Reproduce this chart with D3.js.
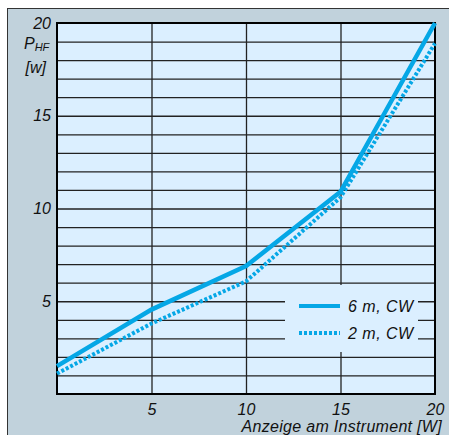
<!DOCTYPE html>
<html>
<head>
<meta charset="utf-8">
<script src="https://cdn.jsdelivr.net/npm/d3@7"></script>
<style>
  body { margin: 0; background: #fff; }
  svg { display: block; }
  text { font-family: "Liberation Sans", Arial, sans-serif; font-style: italic; fill: #111; }
</style>
</head>
<body>
<div id="chart"></div>
<script>
// data
var xValues = [0, 5, 10, 15, 20];
var power6m = [1.5, 4.55, 6.9, 10.9, 20];
var power2m = [1.1, 3.8, 6.07, 10.6, 18.9];
var xTicks = [5, 10, 15, 20];
var yTicks = [5, 10, 15, 20];
var seriesNames = ['6 m, CW', '2 m, CW'];

var _width = 449;
var _height = 435;
var plot = { left: 57, top: 23, right: 435, bottom: 394 };
var lineColor = '#05a7e6';
var plotBg = '#dbefff';
var fontSize = 16;

var svg = d3.select('#chart').append('svg')
  .attr('width', _width)
  .attr('height', _height);

// outer grey panel (cropped on right and bottom)
svg.append('rect')
  .attr('x', 7.5).attr('y', 8.5)
  .attr('width', _width).attr('height', _height)
  .attr('fill', '#c1d2dc')
  .attr('stroke', '#333').attr('stroke-width', 1);

var x = d3.scaleLinear().domain([0, 20]).range([plot.left, plot.right]);
var y = d3.scaleLinear().domain([0, 20]).range([plot.bottom, plot.top]);

svg.append('rect')
  .attr('x', plot.left).attr('y', plot.top)
  .attr('width', plot.right - plot.left).attr('height', plot.bottom - plot.top)
  .attr('fill', plotBg);

// grid lines
svg.append('g')
  .attr('transform', 'translate(' + plot.left + ',0)')
  .call(d3.axisLeft(y).tickValues(d3.range(1, 20)).tickSize(-(plot.right - plot.left)).tickFormat(''))
  .call(function(g) { g.select('.domain').remove(); })
  .selectAll('line').attr('stroke', '#222').attr('stroke-width', 1.3);

svg.append('g')
  .attr('transform', 'translate(0,' + plot.bottom + ')')
  .call(d3.axisBottom(x).tickValues([5, 10, 15]).tickSize(-(plot.bottom - plot.top)).tickFormat(''))
  .call(function(g) { g.select('.domain').remove(); })
  .selectAll('line').attr('stroke', '#222').attr('stroke-width', 1.3);

// legend box hides the grid
var legend = svg.append('g');
legend.append('rect')
  .attr('x', 285).attr('y', 285)
  .attr('width', 133).attr('height', 67)
  .attr('fill', plotBg);

// frame
svg.append('rect')
  .attr('x', plot.left).attr('y', plot.top)
  .attr('width', plot.right - plot.left).attr('height', plot.bottom - plot.top)
  .attr('fill', 'none')
  .attr('stroke', '#000').attr('stroke-width', 2);

// tick labels
svg.append('g')
  .attr('transform', 'translate(' + (plot.left - 6) + ',0)')
  .call(d3.axisLeft(y).tickValues(yTicks).tickSize(0).tickPadding(0))
  .call(function(g) { g.select('.domain').remove(); })
  .selectAll('text')
  .attr('font-size', fontSize).attr('font-family', null).attr('fill', '#111');

svg.append('g')
  .attr('transform', 'translate(0,' + (plot.bottom + 10) + ')')
  .call(d3.axisBottom(x).tickValues(xTicks).tickSize(0).tickPadding(0))
  .call(function(g) { g.select('.domain').remove(); })
  .selectAll('text')
  .attr('font-size', fontSize).attr('font-family', null).attr('fill', '#111');

// axis titles
var yt = svg.append('text')
  .attr('x', 24).attr('y', 49)
  .attr('font-size', fontSize);
yt.append('tspan').text('P');
yt.append('tspan').attr('font-size', 11).attr('dy', 2).text('HF');

svg.append('text')
  .attr('x', 46).attr('y', 73)
  .attr('text-anchor', 'end')
  .attr('font-size', fontSize)
  .text('[w]');

svg.append('text')
  .attr('x', 442).attr('y', 432)
  .attr('text-anchor', 'end')
  .attr('font-size', fontSize)
  .attr('letter-spacing', 0.3)
  .text('Anzeige am Instrument [W]');

// lines
var line6 = d3.line().x(function(d, i) { return x(xValues[i]); }).y(function(d) { return y(d); });

svg.append('path')
  .datum(power6m)
  .attr('fill', 'none')
  .attr('stroke', lineColor)
  .attr('stroke-width', 4.5)
  .attr('d', line6);

svg.append('path')
  .datum(power2m)
  .attr('fill', 'none')
  .attr('stroke', lineColor)
  .attr('stroke-width', 4)
  .attr('stroke-dasharray', '3,2')
  .attr('d', line6);

// legend
legend.append('line')
  .attr('x1', 299).attr('x2', 340).attr('y1', 306).attr('y2', 306)
  .attr('stroke', lineColor).attr('stroke-width', 4);
legend.append('line')
  .attr('x1', 299).attr('x2', 340).attr('y1', 333).attr('y2', 333)
  .attr('stroke', lineColor).attr('stroke-width', 4)
  .attr('stroke-dasharray', '3,2');
legend.selectAll('text.name')
  .data(seriesNames)
  .enter().append('text')
  .attr('class', 'name')
  .attr('x', 348)
  .attr('y', function(d, i) { return 312 + i * 27; })
  .attr('font-size', fontSize)
  .attr('letter-spacing', 0.5)
  .text(function(d) { return d; });
</script>
</body>
</html>
